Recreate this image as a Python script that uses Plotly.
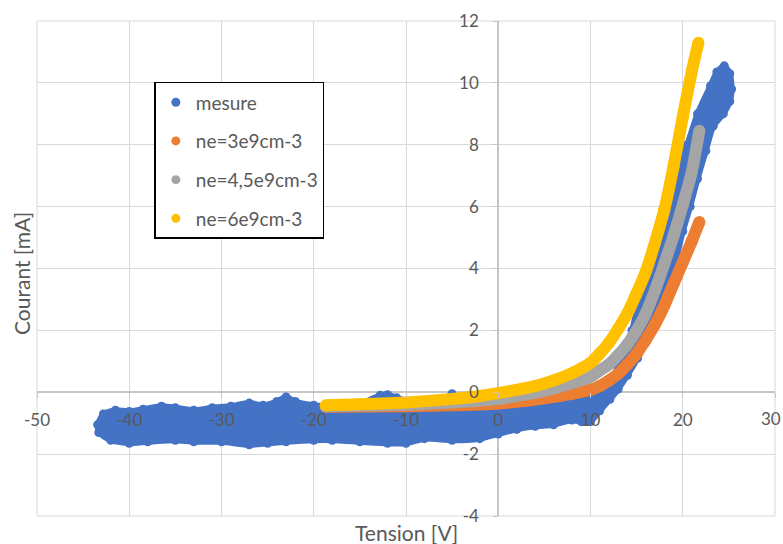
import plotly.graph_objects as go

# ---------------- data ----------------
# outline of the measured point cloud "mesure" (upper/left edge, then lower/right edge)
mesure_bord_v = [-43.4, -42.8, -41.5, -40.0, -38.5, -36.5, -35.0, -33.0, -31.0, -29.0, -27.0,
                 -25.5, -24.0, -23.0, -22.0, -20.0, -18.0, -15.0, -12.8, -12.0, -11.0, -9.0,
                 -6.0, -5.0, -4.0, 0.0, 5.0, 10.0, 12.0, 13.0, 14.5, 16.0, 17.5, 19.2, 20.5,
                 21.6, 23.0, 23.7, 24.5, 25.1,
                 25.3, 25.1, 24.4, 23.3, 22.5, 21.6, 20.8, 20.0, 19.0, 18.0, 17.1, 16.0,
                 15.1, 14.0, 13.0, 12.1, 11.0, 10.0, 9.0, 8.0, 6.0, 4.0, 2.0, 0.0, -2.0,
                 -5.0, -8.0, -10.0, -12.0, -15.0, -18.0, -20.0, -23.0, -25.0, -27.0, -30.0,
                 -33.0, -35.0, -38.0, -40.0, -42.0, -43.3]
mesure_bord_i = [-1.05, -0.7, -0.58, -0.62, -0.55, -0.45, -0.5, -0.58, -0.5, -0.45, -0.35,
                 -0.42, -0.3, -0.15, -0.3, -0.42, -0.45, -0.38, -0.1, -0.08, -0.18, -0.35,
                 -0.32, -0.05, -0.32, -0.42, -0.32, -0.2, 0.3, 0.8, 2.0, 4.0, 5.5, 6.9, 8.0,
                 9.0, 9.9, 10.35, 10.55, 10.3,
                 9.8, 9.4, 9.0, 8.6, 7.8, 6.9, 6.0, 5.2, 4.0, 3.1, 2.4, 1.6,
                 1.1, 0.55, 0.1, -0.23, -0.6, -0.95, -0.95, -0.9, -1.05, -1.1, -1.2, -1.35, -1.5,
                 -1.55, -1.5, -1.65, -1.65, -1.6, -1.55, -1.55, -1.6, -1.65, -1.7, -1.6,
                 -1.6, -1.55, -1.6, -1.65, -1.55, -1.3]

# model curves
ne3_v = [-18.7, -10, -5, 0, 3, 6, 8, 10, 11, 12, 13, 14, 15, 16, 17, 18, 19, 20, 21, 21.8]
ne3_i = [-0.47, -0.45, -0.42, -0.36, -0.28, -0.15, -0.05, 0.08, 0.2, 0.38, 0.6, 0.9,
         1.25, 1.7, 2.2, 2.8, 3.5, 4.2, 4.9, 5.5]

ne45_v = [-18.7, -10, -5, 0, 2, 4, 6, 8, 10, 11, 12, 13, 14, 15, 16, 17, 18, 19, 20, 21, 21.8]
ne45_i = [-0.45, -0.4, -0.33, -0.22, -0.12, -0.02, 0.12, 0.3, 0.5, 0.7, 0.9, 1.2, 1.55,
          2.0, 2.55, 3.3, 4.15, 5.05, 6.05, 7.15, 8.45]

ne6_v = [-18.7, -15, -10, -5, -2, 0, 2, 4, 6, 8, 10, 11, 12, 13, 14, 15, 16, 17, 18, 19,
         20, 21, 21.7]
ne6_i = [-0.42, -0.39, -0.33, -0.22, -0.12, -0.03, 0.08, 0.2, 0.38, 0.62, 0.95, 1.25, 1.6,
         2.05, 2.55, 3.2, 3.9, 4.85, 5.9, 7.3, 8.9, 10.4, 11.3]

series_names = ["mesure", "ne=3e9cm-3", "ne=4,5e9cm-3", "ne=6e9cm-3"]
series_colors = ["#4472C4", "#ED7D31", "#A5A5A5", "#FFC000"]

x_ticks = [-50, -40, -30, -20, -10, 0, 10, 20, 30]
y_ticks = [-4, -2, 0, 2, 4, 6, 8, 10, 12]

FONT = "Lato"
TXT = "#595959"

fig = go.Figure()

# measured cloud
fig.add_trace(go.Scatter(
    x=mesure_bord_v + [mesure_bord_v[0]], y=mesure_bord_i + [mesure_bord_i[0]],
    mode="lines+markers", fill="toself", fillcolor=series_colors[0],
    line=dict(color=series_colors[0], width=6, shape="spline", smoothing=0.6),
    marker=dict(color=series_colors[0], size=9),
    showlegend=False, hoverinfo="skip"))

for vs, ii, col in [(ne3_v, ne3_i, series_colors[1]),
                    (ne45_v, ne45_i, series_colors[2]),
                    (ne6_v, ne6_i, series_colors[3])]:
    fig.add_trace(go.Scatter(
        x=vs, y=ii, mode="lines+markers",
        line=dict(color=col, width=12, shape="spline", smoothing=0.5),
        marker=dict(color=col, size=12),
        showlegend=False, hoverinfo="skip"))

# legend entries
for k, (nm, col) in enumerate(zip(series_names, series_colors)):
    fig.add_trace(go.Scatter(
        x=[None], y=[None], mode="markers", name=nm,
        marker=dict(color=col, size=9), legendgroup=f"g{k}"))

# last x tick label is placed right-aligned at the figure edge so it is not cut
x_ticktext = [str(t) for t in x_ticks[:-1]] + [""]

fig.update_layout(
    width=783, height=544,
    margin=dict(l=37, r=8, t=21, b=28),
    paper_bgcolor="white", plot_bgcolor="white",
    font=dict(family=FONT, color=TXT, size=17),
    showlegend=True,
    legend=dict(x=0.159, y=0.877, xanchor="left", yanchor="top",
                bordercolor="black", borderwidth=1.5, bgcolor="white",
                font=dict(family=FONT, size=19, color=TXT),
                tracegroupgap=11, itemwidth=30),
    xaxis=dict(range=[-50, 30], tickvals=x_ticks, ticktext=x_ticktext,
               showgrid=True, gridcolor="#d9d9d9", gridwidth=1,
               zeroline=True, zerolinecolor="#c6c6c6", zerolinewidth=2,
               showline=False, anchor="free", position=0.25, automargin=False,
               ticks="outside", ticklen=5, tickcolor="#c6c6c6",
               ticklabelstandoff=7, ticklabeloverflow="allow",
               tickfont=dict(family=FONT, size=17, color=TXT)),
    yaxis=dict(range=[-4, 12], tickvals=y_ticks, ticktext=[str(t) for t in y_ticks],
               showgrid=True, gridcolor="#d9d9d9", gridwidth=1,
               zeroline=True, zerolinecolor="#c6c6c6", zerolinewidth=2,
               showline=False, anchor="free", position=0.625, automargin=False,
               ticks="outside", ticklen=5, tickcolor="#c6c6c6",
               ticklabelstandoff=11, ticklabeloverflow="allow",
               tickfont=dict(family=FONT, size=17, color=TXT)),
    shapes=[dict(type="rect", xref="paper", yref="paper", x0=0, y0=0, x1=1, y1=1,
                 line=dict(color="#d9d9d9", width=1), layer="below")],
    annotations=[
        dict(text=str(x_ticks[-1]), xref="paper", yref="paper", x=1.0105, y=0.196,
             showarrow=False, xanchor="right", yanchor="middle",
             font=dict(family=FONT, size=17, color=TXT)),
        dict(text="Courant [mA]", xref="paper", yref="paper", x=-0.021, y=0.49,
             textangle=-90, showarrow=False, xanchor="center", yanchor="middle",
             font=dict(family=FONT, size=21, color=TXT)),
        dict(text="Tension [V]", xref="paper", yref="paper", x=0.5, y=-0.033,
             showarrow=False, xanchor="center", yanchor="middle",
             font=dict(family=FONT, size=21, color=TXT)),
    ],
)

fig.write_html("out.html", config={"displayModeBar": False},
               post_script="document.body.style.margin='0';document.body.style.overflow='hidden';")
